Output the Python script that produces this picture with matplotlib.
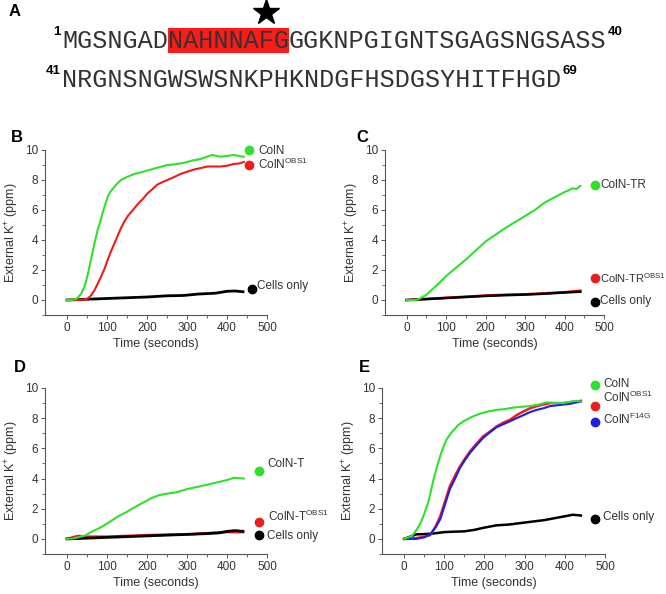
import matplotlib
matplotlib.use("Agg")
import matplotlib.pyplot as plt
from matplotlib.patches import Rectangle

plt.rcParams['font.family'] = ['Liberation Sans', 'DejaVu Sans']
plt.rcParams['mathtext.fontset'] = 'custom'
plt.rcParams['mathtext.rm'] = 'Liberation Sans'
plt.rcParams['mathtext.it'] = 'Liberation Sans'

# ---------------- data ----------------
seq_line1_a = "MGSNGAD"
seq_line1_hl = "NAHNNAFG"
seq_line1_b = "GGKNPGIGNTSGAGSNGSASS"
seq_line2 = "NRGNSNGWSWSNKPHKNDGFHSDGSYHITFHGD"
seq_nums = ["1", "40", "41", "69"]

# Panel B
tB_g = [0, 15, 25, 35, 44, 52, 60, 68, 77, 85, 90, 96, 102, 108, 114, 125, 135, 150, 168, 190, 210, 230, 251, 272, 293, 314, 334, 350, 363, 375, 384, 400, 417, 430, 442]
yB_g = [0, 0.02, 0.1, 0.4, 0.9, 1.7, 2.7, 3.7, 4.7, 5.4, 5.9, 6.4, 6.9, 7.2, 7.4, 7.75, 8.0, 8.2, 8.4, 8.55, 8.7, 8.85, 9.0, 9.05, 9.15, 9.3, 9.4, 9.55, 9.67, 9.6, 9.55, 9.6, 9.67, 9.6, 9.55]
tB_r = [0, 20, 40, 52, 60, 69, 77, 85, 94, 102, 110, 119, 127, 135, 144, 152, 165, 177, 190, 201, 214, 226, 238, 251, 268, 284, 300, 318, 335, 351, 368, 384, 400, 417, 430, 442]
yB_r = [0, 0.0, 0.02, 0.1, 0.3, 0.67, 1.1, 1.55, 2.1, 2.7, 3.25, 3.8, 4.3, 4.8, 5.25, 5.6, 6.0, 6.4, 6.75, 7.1, 7.4, 7.7, 7.85, 8.0, 8.2, 8.4, 8.55, 8.7, 8.8, 8.9, 8.9, 8.9, 8.95, 9.07, 9.1, 9.2]
tB_k = [0, 50, 100, 150, 200, 250, 290, 330, 370, 400, 420, 440]
yB_k = [0, 0.05, 0.1, 0.15, 0.2, 0.28, 0.3, 0.4, 0.45, 0.58, 0.6, 0.55]

# Panel C
tC_g = [0, 20, 30, 50, 75, 100, 125, 150, 175, 200, 225, 250, 275, 300, 325, 350, 375, 400, 410, 420, 430, 440]
yC_g = [0, 0.0, 0.05, 0.35, 0.95, 1.6, 2.15, 2.7, 3.3, 3.9, 4.35, 4.8, 5.2, 5.6, 6.0, 6.5, 6.85, 7.2, 7.3, 7.45, 7.4, 7.6]
tC_r = [0, 50, 100, 150, 200, 250, 300, 350, 400, 440]
yC_r = [0, 0.07, 0.15, 0.22, 0.3, 0.35, 0.38, 0.45, 0.52, 0.62]
tC_k = [0, 50, 100, 150, 200, 250, 300, 350, 400, 440]
yC_k = [0, 0.06, 0.13, 0.2, 0.27, 0.32, 0.36, 0.42, 0.5, 0.55]

# Panel D
tD_g = [0, 20, 45, 60, 87, 108, 128, 150, 169, 190, 211, 230, 250, 275, 300, 335, 376, 400, 417, 442]
yD_g = [0, 0.05, 0.22, 0.45, 0.8, 1.15, 1.5, 1.8, 2.1, 2.4, 2.7, 2.9, 3.0, 3.1, 3.3, 3.5, 3.75, 3.9, 4.05, 4.0]
tD_r = [0, 20, 30, 45, 100, 150, 200, 250, 300, 350, 400, 440]
yD_r = [0, 0.15, 0.2, 0.15, 0.15, 0.2, 0.25, 0.28, 0.3, 0.38, 0.45, 0.45]
tD_k = [0, 50, 100, 150, 200, 250, 300, 350, 380, 400, 420, 440]
yD_k = [0, 0.05, 0.1, 0.15, 0.2, 0.25, 0.3, 0.35, 0.4, 0.5, 0.55, 0.5]

# Panel E
tE_g = [0, 20, 31, 40, 48, 60, 73, 82, 90, 98, 106, 115, 123, 135, 148, 170, 189, 210, 230, 250, 272, 290, 313, 335, 355, 375, 396, 415, 430, 440]
yE_g = [0, 0.2, 0.6, 1.0, 1.5, 2.4, 3.9, 4.8, 5.5, 6.1, 6.6, 6.95, 7.2, 7.55, 7.8, 8.1, 8.3, 8.45, 8.55, 8.6, 8.7, 8.75, 8.8, 8.9, 9.05, 9.0, 9.0, 9.1, 9.15, 9.1]
tE_r = [0, 30, 50, 65, 78, 90, 102, 114, 127, 139, 151, 164, 180, 197, 213, 230, 247, 264, 280, 297, 313, 330, 346, 363, 380, 396, 413, 430, 440]
yE_r = [0, 0.05, 0.15, 0.25, 0.8, 1.5, 2.5, 3.5, 4.2, 4.8, 5.3, 5.8, 6.3, 6.8, 7.1, 7.45, 7.7, 7.9, 8.2, 8.45, 8.65, 8.8, 8.9, 9.0, 9.0, 9.0, 9.05, 9.1, 9.15]
tE_b = [0, 30, 50, 65, 78, 90, 102, 114, 127, 139, 151, 164, 180, 197, 213, 230, 247, 264, 280, 297, 313, 330, 346, 363, 380, 396, 413, 430, 440]
yE_b = [0, 0.0, 0.1, 0.3, 0.75, 1.3, 2.3, 3.3, 4.0, 4.7, 5.2, 5.7, 6.2, 6.7, 7.05, 7.4, 7.6, 7.8, 8.0, 8.2, 8.4, 8.55, 8.65, 8.8, 8.85, 8.9, 8.95, 9.05, 9.1]
tE_k = [0, 20, 30, 50, 70, 100, 125, 150, 175, 200, 230, 260, 290, 320, 350, 380, 410, 420, 440]
yE_k = [0, 0.2, 0.3, 0.32, 0.35, 0.45, 0.48, 0.5, 0.6, 0.75, 0.9, 0.95, 1.05, 1.15, 1.25, 1.4, 1.55, 1.6, 1.55]

GREEN = '#2fe02f'
RED = '#ee1c1c'
BLUE = '#1f1fe6'
BLACK = '#000000'
TXT = '#333333'

W, H = 666, 594
fig = plt.figure(figsize=(W / 100, H / 100), dpi=100)

# overlay axes in pixel coordinates for panel A and panel letters
ov = fig.add_axes([0, 0, 1, 1], zorder=10)
ov.set_xlim(0, W)
ov.set_ylim(H, 0)
ov.axis('off')
ov.patch.set_alpha(0)

for lab, (x, y) in zip("ABCDE", [(15, 12), (17, 137), (362, 137), (20, 368), (364, 368)]):
    ov.text(x, y, lab, fontsize=12, fontweight='bold', ha='center', va='center', color='black')

cw = 15.1
mono = dict(family='Liberation Mono', fontsize=18.1, color=TXT, va='center', ha='left')
x0, y1, y2 = 62, 41, 80
ov.add_patch(Rectangle((x0 + len(seq_line1_a) * cw, 28), len(seq_line1_hl) * cw, 25,
                       facecolor='#ff1a1a', edgecolor='none', zorder=1))
ov.text(x0, y1, seq_line1_a, zorder=2, **mono)
ov.text(x0 + len(seq_line1_a) * cw, y1, seq_line1_hl, zorder=2, **mono)
ov.text(x0 + (len(seq_line1_a) + len(seq_line1_hl)) * cw, y1, seq_line1_b, zorder=2, **mono)
ov.text(x0, y2, seq_line2, zorder=2, **mono)
end1 = x0 + (len(seq_line1_a) + len(seq_line1_hl) + len(seq_line1_b)) * cw
end2 = x0 + len(seq_line2) * cw
sup = dict(fontsize=9.5, fontweight='bold', color='black', va='center')
ov.text(x0 - 1, y1 - 9, seq_nums[0], ha='right', **sup)
ov.text(end1 + 2, y1 - 9, seq_nums[1], ha='left', **sup)
ov.text(x0 - 1, y2 - 9, seq_nums[2], ha='right', **sup)
ov.text(end2 + 2, y2 - 9, seq_nums[3], ha='left', **sup)
ov.plot([266], [12], marker='*', markersize=19, color='black', zorder=3)


def make_ax(left, right, top, bottom):
    ax = fig.add_axes([left / W, 1 - bottom / H, (right - left) / W, (bottom - top) / H])
    ax.set_xlim(-55, 500)
    ax.set_ylim(-1, 10)
    for s in ['top', 'right']:
        ax.spines[s].set_visible(False)
    ax.spines['left'].set_bounds(-1, 10)
    ax.spines['bottom'].set_bounds(-55, 500)
    for s in ['left', 'bottom']:
        ax.spines[s].set_color('#555555')
        ax.spines[s].set_linewidth(0.8)
    ax.set_xticks([0, 100, 200, 300, 400, 500])
    ax.set_xticks([50, 150, 250, 350, 450], minor=True)
    ax.set_yticks([0, 2, 4, 6, 8, 10])
    ax.set_yticks([-1, 1, 3, 5, 7, 9], minor=True)
    ax.tick_params(which='major', length=3, width=0.7, color='#555555', labelsize=8.5,
                   labelcolor=TXT, pad=2)
    ax.tick_params(which='minor', length=2, width=0.6, color='#555555')
    ax.set_xlabel('Time (seconds)', fontsize=9, color=TXT, labelpad=3)
    ax.set_ylabel('External K$^{+}$ (ppm)', fontsize=9, color=TXT, labelpad=3)
    return ax


def marker_label(ax, x, y, color, tx, ty, text, ha='left', fs=8.5):
    ax.plot([x], [y], 'o', color=color, markersize=6, clip_on=False)
    ax.text(tx, ty, text, fontsize=fs, color=TXT, ha=ha, va='center', clip_on=False)


axB = make_ax(45, 267, 150, 315)
axB.plot(tB_k, yB_k, color=BLACK, lw=2.0)
axB.plot(tB_r, yB_r, color=RED, lw=1.5)
axB.plot(tB_g, yB_g, color=GREEN, lw=1.5)
marker_label(axB, 455, 10.0, GREEN, 478, 9.95, 'ColN')
marker_label(axB, 455, 9.0, RED, 478, 9.05, 'ColN$^{\\mathrm{OBS1}}$')
marker_label(axB, 463, 0.73, BLACK, 476, 0.95, 'Cells only')

axC = make_ax(385, 604, 150, 315)
axC.plot(tC_r, yC_r, color=RED, lw=1.8)
axC.plot(tC_k, yC_k, color=BLACK, lw=1.8)
axC.plot(tC_g, yC_g, color=GREEN, lw=1.5)
marker_label(axC, 477, 7.67, GREEN, 490, 7.67, 'ColN-TR')
marker_label(axC, 477, 1.47, RED, 490, 1.45, 'ColN-TR$^{\\mathrm{OBS1}}$', fs=8)
marker_label(axC, 477, -0.13, BLACK, 490, -0.05, 'Cells only')

axD = make_ax(45, 267, 388, 554)
axD.plot(tD_r, yD_r, color=RED, lw=1.8)
axD.plot(tD_k, yD_k, color=BLACK, lw=2.0)
axD.plot(tD_g, yD_g, color=GREEN, lw=1.5)
marker_label(axD, 480, 4.5, GREEN, 502, 4.95, 'ColN-T')
marker_label(axD, 480, 1.13, RED, 502, 1.5, 'ColN-T$^{\\mathrm{OBS1}}$')
marker_label(axD, 480, 0.26, BLACK, 500, 0.2, 'Cells only')

axE = make_ax(382, 605, 388, 554)
axE.plot(tE_k, yE_k, color=BLACK, lw=1.8)
axE.plot(tE_r, yE_r, color=RED, lw=1.8)
axE.plot(tE_b, yE_b, color=BLUE, lw=1.5)
axE.plot(tE_g, yE_g, color=GREEN, lw=1.5)
marker_label(axE, 475, 10.2, GREEN, 495, 10.25, 'ColN')
marker_label(axE, 475, 8.8, RED, 495, 9.35, 'ColN$^{\\mathrm{OBS1}}$')
marker_label(axE, 475, 7.75, BLUE, 495, 7.95, 'ColN$^{\\mathrm{F14G}}$')
marker_label(axE, 475, 1.32, BLACK, 495, 1.45, 'Cells only')

fig.savefig('out.png', dpi=100)
